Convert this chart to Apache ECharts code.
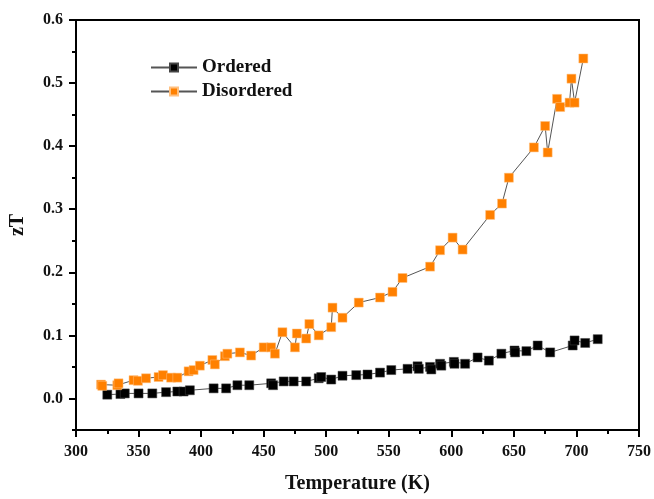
<!DOCTYPE html>
<html>
<head>
<meta charset="utf-8" />
<title>zT vs Temperature</title>
<script src="https://cdn.jsdelivr.net/npm/echarts@6/dist/echarts.min.js"></script>
</head>
<body style="margin:0">
<div id="main" style="width:654px;height:499px;"></div>
<script type="text/javascript">
  // values
  var orderedT = [325, 335.5, 339, 350, 361, 372, 381, 386, 391, 410, 420, 429, 438.5, 456, 457.5, 466, 474, 484, 494, 496, 504, 513, 524, 533, 543, 552, 565, 573, 574, 583, 584, 591, 592, 602, 602.5, 611, 621, 630, 640, 650.5, 651, 660, 669, 679, 697, 698.5, 707, 717];
  var orderedZT = [0.006, 0.007, 0.008, 0.008, 0.008, 0.010, 0.011, 0.011, 0.013, 0.016, 0.016, 0.021, 0.021, 0.024, 0.021, 0.027, 0.027, 0.027, 0.032, 0.034, 0.030, 0.036, 0.037, 0.038, 0.041, 0.045, 0.047, 0.051, 0.047, 0.050, 0.046, 0.055, 0.052, 0.058, 0.055, 0.055, 0.065, 0.060, 0.071, 0.076, 0.073, 0.075, 0.084, 0.073, 0.084, 0.092, 0.088, 0.094];
  var disorderedT = [320, 321, 333, 334, 346, 349.5, 356, 366, 369.5, 376, 381, 390, 394, 399, 409, 411, 419, 421, 431, 440, 450, 456, 459, 465, 475, 476.5, 484, 486.5, 494, 504, 505, 513, 526, 543, 553, 561, 583, 591, 601, 609, 631, 640.5, 646, 666, 675, 677, 684.5, 687, 694.5, 696, 698.5, 705.5];
  var disorderedZT = [0.022, 0.020, 0.021, 0.024, 0.029, 0.028, 0.032, 0.034, 0.037, 0.033, 0.033, 0.043, 0.045, 0.052, 0.061, 0.054, 0.067, 0.071, 0.073, 0.068, 0.081, 0.081, 0.071, 0.105, 0.081, 0.103, 0.095, 0.118, 0.100, 0.113, 0.144, 0.128, 0.152, 0.160, 0.169, 0.191, 0.209, 0.235, 0.255, 0.236, 0.291, 0.309, 0.350, 0.398, 0.432, 0.390, 0.475, 0.462, 0.469, 0.507, 0.469, 0.539];
  var yMajorTicks = [0, 0.1, 0.2, 0.3, 0.4, 0.5, 0.6];
  var yMinorTicks = [-0.05, 0.05, 0.15, 0.25, 0.35, 0.45, 0.55];
  var seriesNames = ['Ordered', 'Disordered'];

  function zip(xs, ys) {
    var out = [];
    for (var i = 0; i < xs.length; i++) {
      out.push([xs[i], ys[i]]);
    }
    return out;
  }

  var serif = "'Liberation Serif', 'Times New Roman', serif";
  var myChart = echarts.init(document.getElementById('main'));

  var option = {
    animation: false,
    backgroundColor: '#fff',
    grid: {
      left: 76,
      right: 13,
      top: 20,
      bottom: 63,
      show: true,
      borderColor: '#000',
      borderWidth: 2
    },
    legend: {
      data: seriesNames,
      orient: 'vertical',
      left: 145,
      top: 53,
      itemWidth: 46,
      itemHeight: 10,
      itemGap: 5,
      textStyle: {
        fontFamily: serif,
        fontWeight: 'bold',
        fontSize: 19,
        color: '#111'
      }
    },
    xAxis: {
      type: 'value',
      min: 300,
      max: 750,
      interval: 50,
      name: 'Temperature (K)',
      nameLocation: 'middle',
      nameGap: 44,
      nameTextStyle: {
        fontFamily: serif,
        fontWeight: 'bold',
        fontSize: 20,
        color: '#111'
      },
      axisLine: { onZero: false, lineStyle: { color: '#000', width: 2 } },
      axisTick: { length: 7, lineStyle: { color: '#000', width: 2 } },
      minorTick: { show: true, splitNumber: 2, length: 4, lineStyle: { color: '#000', width: 2 } },
      splitLine: { show: false },
      axisLabel: {
        margin: 14,
        fontFamily: serif,
        fontWeight: 'bold',
        fontSize: 16,
        color: '#111'
      }
    },
    yAxis: [{
      type: 'value',
      min: -0.05,
      max: 0.6,
      name: 'zT',
      nameLocation: 'middle',
      nameRotate: 90,
      nameGap: 48,
      nameTextStyle: {
        fontFamily: serif,
        fontWeight: 'bold',
        fontSize: 20,
        color: '#111'
      },
      axisLine: { show: true, onZero: false, lineStyle: { color: '#000', width: 2 } },
      axisTick: { customValues: yMajorTicks, length: 7, lineStyle: { color: '#000', width: 2 } },
      splitLine: { show: false },
      axisLabel: {
        customValues: yMajorTicks,
        margin: 13,
        fontFamily: serif,
        fontWeight: 'bold',
        fontSize: 16,
        color: '#111',
        formatter: function (v) { return v.toFixed(1); }
      }
    }, {
      type: 'value',
      position: 'left',
      min: -0.05,
      max: 0.6,
      axisLine: { show: false, onZero: false },
      axisTick: { customValues: yMinorTicks, length: 4, lineStyle: { color: '#000', width: 2 } },
      axisLabel: { show: false },
      splitLine: { show: false }
    }],
    series: [{
      name: 'Ordered',
      type: 'line',
      data: zip(orderedT, orderedZT),
      symbol: 'rect',
      symbolSize: 9,
      itemStyle: { color: '#000', borderColor: '#444', borderWidth: 0.5 },
      lineStyle: { color: '#555', width: 1 }
    }, {
      name: 'Disordered',
      type: 'line',
      data: zip(disorderedT, disorderedZT),
      symbol: 'rect',
      symbolSize: 9,
      itemStyle: { color: '#ff8000', borderColor: '#ffc080', borderWidth: 0.5 },
      lineStyle: { color: '#555', width: 1 }
    }]
  };

  myChart.setOption(option);
</script>
</body>
</html>
